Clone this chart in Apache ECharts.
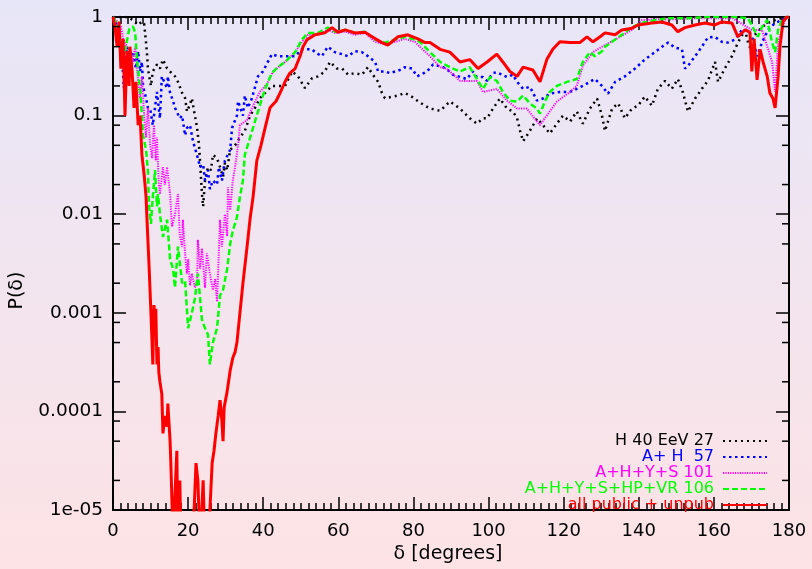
<!DOCTYPE html>
<html><head><meta charset="utf-8">
<script src="https://cdn.jsdelivr.net/npm/echarts@6/dist/echarts.min.js"></script>
<style>html,body{margin:0;padding:0;}#c{width:812px;height:569px;}</style>
</head><body><div id="c"></div>
<script>
const seriesNames = ['H 40 EeV 27', 'A+ H  57', 'A+H+Y+S 101', 'A+H+Y+S+HP+VR 106', 'all public + unpub'];
const seriesColors = ['#000000', '#0000ff', '#ff00ff', '#00ff00', '#ff0000'];
const xTicks = [0, 20, 40, 60, 80, 100, 120, 140, 160, 180];
const yTickValues = [1e-5, 1e-4, 1e-3, 1e-2, 1e-1, 1];
const yTickLabels = ['1e-05', '0.0001', '0.001', '0.01', '0.1', '1'];
const yMinorTicks = [2e-5,5e-5,8e-5,2e-4,5e-4,8e-4,2e-3,5e-3,8e-3,0.02,0.05,0.08,0.2,0.5,0.8];

const blackData = [[0,1],[2,1],[4,1],[5.3,0.93],[6.7,0.83],[7.7,0.9],[8.3,0.85],[8.8,0.55],[9.1,0.4],[9.3,0.3],[10.1,0.2],[10.6,0.28],[11.7,0.33],[12.5,0.3],[13.3,0.37],[14.4,0.3],[15.2,0.28],[16.5,0.25],[17.3,0.22],[18.4,0.17],[19.2,0.15],[19.7,0.11],[20.5,0.13],[21.0,0.15],[21.8,0.1],[22.4,0.075],[22.9,0.05],[23.2,0.033],[23.7,0.016],[24.0,0.012],[24.5,0.022],[25.3,0.03],[26.1,0.028],[26.6,0.04],[27.7,0.037],[28.5,0.03],[29.3,0.024],[29.8,0.033],[30.4,0.028],[31.2,0.045],[32.5,0.05],[33.8,0.06],[35.1,0.07],[36.5,0.1],[37.8,0.12],[39.1,0.15],[40.5,0.17],[42.3,0.2],[43.9,0.2],[45.8,0.2],[47.7,0.28],[49.3,0.25],[51.1,0.19],[53,0.24],[54.6,0.25],[56.4,0.28],[57.8,0.35],[59.6,0.3],[61,0.3],[62.6,0.26],[64.4,0.27],[66.3,0.26],[67.9,0.31],[69.2,0.26],[70.6,0.22],[71.6,0.17],[72.4,0.15],[74.3,0.155],[75.9,0.16],[77.7,0.17],[79.6,0.155],[81.2,0.14],[83.1,0.126],[84.4,0.118],[87.1,0.112],[89.7,0.139],[92.4,0.118],[95,0.094],[96.9,0.083],[98.5,0.094],[99.6,0.094],[101.2,0.118],[103,0.149],[104.9,0.118],[106.5,0.11],[107.6,0.094],[108.4,0.07],[109.2,0.055],[111,0.07],[112.9,0.094],[114.5,0.08],[116.3,0.066],[118.2,0.083],[119.8,0.1],[121.7,0.087],[123.5,0.11],[125.1,0.083],[127,0.118],[128.9,0.149],[130.2,0.1],[131,0.07],[132.9,0.118],[134.5,0.133],[136.3,0.094],[138.2,0.118],[139.8,0.126],[141.6,0.156],[143.5,0.126],[145.1,0.187],[147,0.225],[148.8,0.187],[150.4,0.235],[151.7,0.174],[153.1,0.11],[155,0.149],[156.8,0.187],[158.4,0.225],[160.3,0.35],[161.1,0.22],[162.9,0.3],[164.8,0.4],[166.4,0.55],[168.3,0.74],[169.1,0.55],[170.1,0.44],[170.9,0.66],[172.8,0.79],[174.4,0.87],[176.3,0.93],[178.9,1],[180,1]];

const blueData = [[0,1],[1.1,0.8],[2.4,0.37],[2.9,0.19],[3.2,0.3],[3.7,0.5],[4.3,0.4],[5.3,0.45],[6.1,0.3],[6.7,0.45],[7.2,0.28],[7.7,0.35],[8.0,0.2],[8.8,0.15],[9.3,0.12],[9.9,0.118],[10.6,0.08],[11.7,0.174],[12.5,0.094],[13.0,0.25],[14.4,0.19],[14.6,0.25],[15.2,0.17],[16.0,0.14],[16.5,0.12],[17.8,0.094],[18.4,0.1],[19.2,0.063],[19.7,0.075],[20.5,0.08],[21.3,0.055],[21.8,0.055],[22.6,0.037],[23.2,0.03],[24.0,0.032],[24.5,0.022],[25.3,0.028],[25.8,0.018],[26.6,0.022],[27.7,0.02],[28.2,0.03],[29.0,0.022],[29.8,0.035],[31.2,0.045],[31.7,0.075],[33.0,0.1],[33.3,0.14],[34.6,0.1],[35.1,0.16],[35.9,0.12],[37.0,0.15],[38.6,0.25],[39.9,0.28],[42.3,0.42],[43.9,0.4],[45.8,0.4],[48.5,0.4],[50.3,0.47],[53.0,0.47],[53.8,0.44],[55.6,0.4],[57.2,0.5],[59.1,0.44],[61,0.42],[62.6,0.4],[64.4,0.45],[66.3,0.44],[67.9,0.4],[69.8,0.35],[70.6,0.28],[72.4,0.28],[73.7,0.27],[75.1,0.28],[76.4,0.29],[77.7,0.31],[79.6,0.3],[81,0.25],[83.6,0.28],[85.2,0.33],[87.9,0.31],[89.7,0.28],[90.5,0.26],[94.2,0.235],[95.8,0.28],[96.9,0.246],[98.5,0.246],[99.6,0.225],[101.2,0.27],[102.2,0.276],[104.9,0.246],[106.5,0.26],[107.6,0.22],[109.2,0.187],[111,0.196],[112.9,0.142],[114.5,0.149],[116.3,0.167],[119,0.174],[121.7,0.174],[123.5,0.187],[125.1,0.2],[127,0.22],[128.3,0.235],[130.2,0.2],[131.8,0.167],[133.7,0.22],[136.3,0.25],[139,0.3],[141.6,0.37],[144.3,0.44],[146.2,0.5],[147.8,0.55],[149.6,0.49],[151.5,0.47],[152.3,0.3],[153.1,0.32],[155,0.4],[156.8,0.5],[158.4,0.62],[160.3,0.63],[162.1,0.56],[163.7,0.55],[165.6,0.59],[167.5,0.74],[169.1,0.74],[170.4,0.59],[171.5,0.4],[172.8,0.55],[174.4,0.74],[176.3,0.87],[178.1,0.93],[179.4,1],[180,1]];

const magentaData = [[0,1],[1.1,0.9],[2.1,0.8],[2.7,0.6],[3.7,0.5],[4.3,0.45],[5.1,0.33],[5.9,0.5],[6.4,0.3],[6.7,0.22],[7.2,0.15],[7.7,0.25],[8.3,0.1],[8.8,0.06],[9.3,0.12],[9.9,0.05],[10.4,0.037],[10.9,0.08],[11.4,0.035],[11.7,0.06],[12.2,0.02],[12.5,0.016],[13.3,0.03],[13.8,0.02],[14.4,0.03],[15.2,0.016],[15.7,0.0075],[16.5,0.01],[17.3,0.016],[17.8,0.006],[18.4,0.0047],[18.6,0.0088],[19.2,0.004],[19.7,0.0025],[20.0,0.0035],[20.5,0.0019],[21.0,0.0025],[21.8,0.0018],[22.4,0.0021],[22.6,0.0055],[23.2,0.0028],[23.7,0.0045],[24.5,0.0018],[25.0,0.004],[25.8,0.0025],[26.6,0.0017],[27.2,0.0022],[27.7,0.0013],[28.5,0.0088],[29.0,0.0047],[29.8,0.01],[30.4,0.006],[30.6,0.0187],[31.2,0.011],[31.9,0.022],[32.5,0.03],[33.3,0.05],[33.8,0.08],[35.1,0.087],[35.7,0.09],[37.3,0.126],[39.1,0.174],[41.0,0.21],[42.6,0.28],[44.5,0.32],[45.8,0.35],[48.5,0.44],[50.3,0.56],[51.9,0.66],[54.6,0.66],[57.2,0.74],[59.1,0.69],[61.8,0.71],[64.4,0.66],[67.1,0.69],[69.8,0.56],[72.4,0.53],[75.1,0.56],[77.7,0.6],[80.4,0.56],[81.7,0.5],[84.4,0.4],[87.1,0.31],[88.9,0.3],[92.4,0.225],[96.9,0.225],[98.5,0.174],[100.4,0.18],[102.2,0.187],[104.9,0.142],[107.6,0.118],[110.2,0.118],[112.9,0.087],[113.7,0.08],[115.5,0.1],[118.2,0.139],[121.7,0.174],[123.5,0.2],[125.1,0.32],[127.8,0.44],[130.2,0.5],[133.7,0.59],[138.2,0.74],[140.8,0.93],[145,0.95],[150,0.95],[155,0.97],[160,0.97],[165,0.97],[170.1,0.74],[172.8,0.74],[175.5,0.35],[176.3,0.174],[177.1,0.55],[178.9,0.93],[180,1]];

const greenData = [[0,1],[1.1,0.85],[2.4,0.5],[3.2,0.45],[4.3,0.75],[5.3,0.8],[5.9,0.7],[6.4,0.37],[7.2,0.19],[7.7,0.1],[8.0,0.063],[8.8,0.045],[9.3,0.027],[9.6,0.012],[10.1,0.008],[10.6,0.015],[11.2,0.028],[11.7,0.012],[12.0,0.016],[12.5,0.01],[13.3,0.0059],[14.4,0.0088],[15.2,0.0035],[16.0,0.0028],[16.5,0.0018],[17.3,0.0047],[18.4,0.002],[19.2,0.0021],[20.0,0.0007],[21.0,0.001],[21.8,0.0014],[22.6,0.0025],[23.7,0.00085],[24.5,0.0007],[25.3,0.0006],[25.8,0.0003],[26.6,0.0005],[27.7,0.0007],[28.5,0.0015],[29.3,0.0017],[30.4,0.0028],[31.2,0.005],[31.9,0.0068],[33.0,0.0093],[33.8,0.015],[34.6,0.022],[35.1,0.04],[37.0,0.069],[38.6,0.11],[40.5,0.187],[42.3,0.27],[43.9,0.31],[45.8,0.35],[48.5,0.44],[50.3,0.59],[51.9,0.69],[54.6,0.69],[57.2,0.78],[59.1,0.71],[61.8,0.74],[64.4,0.69],[67.1,0.71],[69.8,0.59],[72.4,0.55],[75.1,0.59],[77.7,0.63],[80.4,0.59],[81.7,0.56],[84.4,0.44],[87.1,0.35],[89.7,0.31],[92.4,0.28],[95,0.31],[96.9,0.235],[98.5,0.187],[100.4,0.246],[102.2,0.225],[103.8,0.174],[105.7,0.142],[107.6,0.139],[109.2,0.16],[111,0.133],[112.9,0.118],[113.7,0.105],[115,0.139],[116.3,0.174],[118.2,0.2],[120.9,0.22],[123.5,0.235],[125.1,0.35],[127,0.44],[128.3,0.4],[130.2,0.45],[131,0.5],[133.7,0.59],[135.5,0.66],[138.2,0.79],[140.8,0.87],[144.3,0.93],[147.8,0.97],[153.1,0.97],[158.4,1],[165.6,1],[169.1,0.97],[171.7,0.63],[172.8,0.79],[174.2,0.93],[175.5,0.55],[176.3,0.44],[177.1,0.74],[178.1,0.93],[179.4,1],[180,1]];

const redData = [[0,1],[0.5,0.8],[1.1,0.5],[1.6,0.9],[2.1,0.3],[2.7,0.6],[3.2,0.1],[3.7,0.45],[4.3,0.2],[4.5,0.5],[5.1,0.28],[5.6,0.12],[6.1,0.22],[6.7,0.08],[7.2,0.1],[7.7,0.04],[8.3,0.025],[8.8,0.015],[9.1,0.008],[9.6,0.003],[10.1,0.001],[10.4,0.0005],[10.6,0.0003],[10.9,0.0012],[11.2,0.0008],[11.4,0.0011],[11.7,0.0003],[12.0,0.00045],[12.2,0.00025],[12.5,0.0002],[13.0,0.00015],[13.3,0.00006],[13.8,0.00009],[14.4,0.00007],[14.6,0.00012],[15.2,0.00005],[15.4,0.00003],[16.0,0.000005],[16.5,0.000005],[17.0,0.00004],[17.3,0.000004],[17.8,0.00002],[18.1,0.000004],[18.6,0.000004],[20.0,0.000004],[21.0,0.000004],[21.6,0.00001],[22.1,0.00003],[22.6,0.00002],[23.2,0.000004],[24.0,0.00002],[24.5,0.000004],[25.3,0.000004],[25.8,0.00001],[26.4,0.00003],[26.9,0.00004],[27.4,0.00006],[28.0,0.00009],[28.5,0.00013],[29.0,0.00008],[29.3,0.00005],[29.6,0.00011],[30.4,0.00016],[31.2,0.00026],[31.9,0.00035],[32.5,0.0004],[33.0,0.0005],[33.8,0.001],[34.6,0.002],[35.7,0.0047],[36.5,0.009],[37.3,0.015],[38.3,0.035],[39.4,0.05],[40.5,0.075],[41.8,0.12],[43.4,0.14],[44.5,0.17],[45.8,0.22],[47.1,0.27],[48.5,0.3],[49.8,0.4],[50.6,0.5],[51.7,0.59],[53.8,0.66],[56.4,0.69],[58.3,0.78],[59.9,0.7],[61.8,0.74],[64.4,0.69],[67.1,0.7],[69,0.63],[71.6,0.55],[73.2,0.52],[75.9,0.63],[78.5,0.66],[81.2,0.6],[83.1,0.55],[84.4,0.55],[87.1,0.47],[89.7,0.44],[92.4,0.35],[95,0.37],[97.2,0.3],[99.6,0.35],[102.2,0.42],[103.8,0.35],[105.7,0.28],[107.6,0.25],[109.2,0.31],[111.8,0.29],[113.7,0.22],[115.5,0.37],[117.1,0.47],[119,0.56],[121.7,0.55],[124.3,0.55],[126.2,0.63],[127.8,0.56],[129.7,0.63],[131,0.69],[133.7,0.66],[135.5,0.74],[138.2,0.77],[139.8,0.83],[143.5,0.87],[146.2,0.89],[148.8,0.83],[150.4,0.71],[152.3,0.78],[155,0.83],[157.6,0.87],[160.3,0.83],[162.1,0.89],[164.8,0.87],[166.4,0.63],[168.3,0.74],[169.6,0.7],[170.1,0.28],[170.7,0.6],[171.5,0.23],[172.3,0.47],[173.1,0.35],[174.2,0.25],[174.9,0.17],[175.7,0.15],[176.3,0.12],[177.1,0.25],[177.6,0.5],[178.4,0.9],[179.4,1],[180,1]];

const allData = [blackData, blueData, magentaData, greenData, redData];
const lineWidths = [2.5, 2.5, 2, 2.5, 3];
const lineTypes = [[2, 4], [2.5, 3.5], [1.2, 1.2], [6, 3], 'solid'];

const FONT = 'DejaVu Sans';
const chart = echarts.init(document.getElementById('c'), null, {renderer: 'canvas'});

function yLabel(v) {
  for (let i = 0; i < yTickValues.length; i++) {
    if (Math.abs(Math.log10(v) - Math.log10(yTickValues[i])) < 1e-6) return yTickLabels[i];
  }
  return '';
}

const commonX = {type: 'value', min: 0, max: 180, interval: 20};
const commonY = {type: 'log', logBase: 10, min: 1e-5, max: 1};
const tickLine = {color: '#000', width: 1.5};

const option = {
  animation: false,
  backgroundColor: {type: 'linear', x: 0, y: 0, x2: 0, y2: 1,
    colorStops: [{offset: 0, color: '#e7e6f8'}, {offset: 1, color: '#fde3e5'}]},
  grid: {left: 113, top: 17, right: 23, bottom: 51, containLabel: false},
  xAxis: [
    Object.assign({}, commonX, {
      position: 'bottom',
      name: 'δ [degrees]', nameLocation: 'middle', nameGap: 33,
      nameTextStyle: {fontFamily: FONT, fontSize: 19, color: '#000', padding: [0, 6, 0, 0]},
      axisLine: {show: true, onZero: false, lineStyle: {color: '#000', width: 2}},
      axisTick: {show: true, inside: true, length: 13, lineStyle: tickLine},
      minorTick: {show: true, splitNumber: 10, length: 7, lineStyle: tickLine},
      axisLabel: {fontFamily: FONT, fontSize: 18, color: '#000', margin: 12},
      splitLine: {show: false}
    }),
    Object.assign({}, commonX, {
      position: 'top',
      axisLine: {show: true, onZero: false, lineStyle: {color: '#000', width: 2}},
      axisTick: {show: true, inside: true, length: 13, lineStyle: tickLine},
      minorTick: {show: true, splitNumber: 10, length: 7, lineStyle: tickLine},
      axisLabel: {show: false},
      splitLine: {show: false}
    })
  ],
  yAxis: [
    Object.assign({}, commonY, {
      position: 'left',
      name: 'P(δ)', nameLocation: 'middle', nameGap: 86, nameRotate: 90,
      nameTextStyle: {fontFamily: FONT, fontSize: 19, color: '#000', padding: [0, 54, 0, 0]},
      axisLine: {show: true, onZero: false, lineStyle: {color: '#000', width: 2}},
      axisTick: {show: true, inside: true, length: 13, lineStyle: tickLine},
      axisLabel: {fontFamily: FONT, fontSize: 18.5, color: '#000', margin: 10, formatter: yLabel},
      splitLine: {show: false}
    }),
    Object.assign({}, commonY, {
      position: 'right',
      axisLine: {show: true, onZero: false, lineStyle: {color: '#000', width: 2}},
      axisTick: {show: true, inside: true, length: 13, lineStyle: tickLine},
      axisLabel: {show: false},
      splitLine: {show: false}
    })
  ],
  legend: {
    orient: 'vertical', align: 'right', right: 44, top: 433, padding: 0,
    itemWidth: 44, itemHeight: 10, itemGap: 0,
    itemStyle: {opacity: 0},
    textStyle: {fontFamily: FONT, fontSize: 16, lineHeight: 16, padding: [0, 4, 0, 0]},
    data: seriesNames.map((n, i) => ({name: n, textStyle: {color: seriesColors[i]}}))
  },
  series: allData.map((d, i) => ({
    name: seriesNames[i], type: 'line', data: d, xAxisIndex: 0, yAxisIndex: 0,
    showSymbol: false, symbol: 'none', clip: true, z: 2 + i,
    lineStyle: {color: seriesColors[i], width: lineWidths[i], type: lineTypes[i]},
    itemStyle: {color: seriesColors[i]}
  })).concat([{
    name: 'minorTicks', type: 'custom', xAxisIndex: 0, yAxisIndex: 0, silent: true, clip: false, z: 20,
    data: yMinorTicks.map(v => [0, v]),
    renderItem: function (params, api) {
      const v = api.value(1);
      const pL = api.coord([0, v]);
      const pR = api.coord([180, v]);
      return {type: 'group', children: [
        {type: 'line', shape: {x1: pL[0], y1: pL[1], x2: pL[0] + 7, y2: pL[1]}, style: {stroke: '#000', lineWidth: 1.5}},
        {type: 'line', shape: {x1: pR[0] - 7, y1: pR[1], x2: pR[0], y2: pR[1]}, style: {stroke: '#000', lineWidth: 1.5}}
      ]};
    }
  }])
};
chart.setOption(option);
</script></body></html>
